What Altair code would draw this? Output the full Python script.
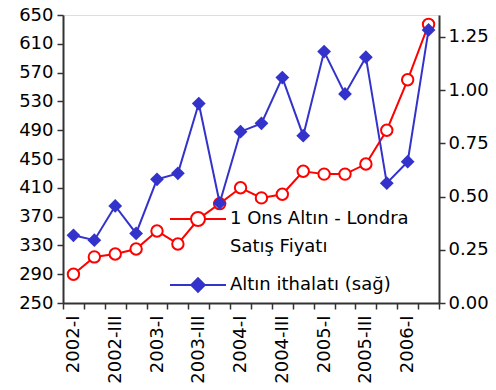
import json
import altair as alt
import pandas as pd

quarters = ["2002-I", "2002-II", "2002-III", "2002-IV",
            "2003-I", "2003-II", "2003-III", "2003-IV",
            "2004-I", "2004-II", "2004-III", "2004-IV",
            "2005-I", "2005-II", "2005-III", "2005-IV",
            "2006-I", "2006-II"]
shown_labels = ["2002-I", "2002-III", "2003-I", "2003-III", "2004-I",
                "2004-III", "2005-I", "2005-III", "2006-I"]
gold_price = [290, 314, 318, 325, 350, 332, 367, 388, 410, 396, 401, 433,
              429, 429, 443, 490, 560, 637]
gold_imports = [0.318, 0.295, 0.456, 0.327, 0.581, 0.609, 0.937, 0.470,
                0.805, 0.844, 1.059, 0.786, 1.181, 0.982, 1.155, 0.563,
                0.664, 1.283]
series_names = ["1 Ons Altın - Londra Satış Fiyatı", "Altın ithalatı (sağ)"]
left_ticks = [250, 290, 330, 370, 410, 450, 490, 530, 570, 610, 650]
right_ticks = [0.0, 0.25, 0.5, 0.75, 1.0, 1.25]

df = pd.DataFrame({"quarter": quarters, "price": gold_price, "imports": gold_imports})

RED = "#ff0000"
BLUE = "#3333cc"
FONT = "DejaVu Sans"
AXC = "#333333"

x_enc = alt.X(
    "quarter:N", sort=quarters, bandPosition=0.5,
    scale=alt.Scale(type="band", paddingInner=0, paddingOuter=0),
    axis=alt.Axis(
        title=None, labelAngle=-90, labelFont=FONT, labelFontSize=18,
        labelColor="#000000", labelOverlap=False, labelPadding=6,
        labelExpr="indexof(" + json.dumps(shown_labels) + ", datum.value) >= 0 ? datum.value : ''",
        tickBand="extent", tickSize=6, tickColor=AXC, tickWidth=1.5,
        domainColor=AXC, domainWidth=2, grid=False,
    ),
)

y_left = alt.Y(
    "price:Q", scale=alt.Scale(domain=[250, 650], nice=False, zero=False),
    axis=alt.Axis(
        orient="left", title=None, values=left_ticks, labelFont=FONT,
        labelFontSize=18, labelColor="#000000", tickSize=6, tickColor=AXC,
        tickWidth=1.5, domainColor=AXC, domainWidth=2, grid=False, labelPadding=4,
    ),
)
y_right = alt.Y(
    "imports:Q", scale=alt.Scale(domain=[0, 1.353], nice=False, zero=False),
    axis=alt.Axis(
        orient="right", title=None, values=right_ticks, format=".2f",
        labelFont=FONT, labelFontSize=18, labelColor="#000000", tickSize=6,
        tickColor=AXC, tickWidth=1.5, domainColor=AXC, domainWidth=2,
        grid=False, labelPadding=3,
    ),
)

base = alt.Chart(df)
price_layer = alt.layer(
    base.mark_line(color=RED, strokeWidth=2).encode(x=x_enc, y=y_left),
    base.mark_point(shape="circle", size=130, filled=False, fill="white",
                    stroke=RED, strokeWidth=2, opacity=1).encode(x=x_enc, y=y_left),
)
import_layer = alt.layer(
    base.mark_line(color=BLUE, strokeWidth=2).encode(x=x_enc, y=y_right),
    base.mark_point(shape="diamond", size=190, filled=True, color=BLUE,
                    opacity=1).encode(x=x_enc, y=y_right),
)

path_red = ("M-1,0H-0.25M0.25,0H1"
            "M-0.25,0A0.25,0.25 0 1,1 0.25,0A0.25,0.25 0 1,1 -0.25,0Z")
path_blue = "M-1,0H1M0,-0.24L0.24,0L0,0.24L-0.24,0Z"

leg = alt.Legend(
    title=None, orient="none", legendX=106, legendY=175, padding=0,
    labelFont=FONT, labelFontSize=18, labelColor="#000000", labelLimit=400,
    labelOffset=3, symbolSize=3136, symbolStrokeWidth=2, rowPadding=-12,
    labelExpr="datum.label == '" + series_names[0] + "' ? ['1 Ons Altın - Londra', 'Satış Fiyatı'] : datum.label",
)
legend_layer = base.transform_filter("false").mark_point(size=3136, opacity=1, strokeWidth=2).encode(
    shape=alt.Shape("series:N", scale=alt.Scale(domain=series_names, range=[path_red, path_blue]), legend=leg),
    stroke=alt.Stroke("series:N", scale=alt.Scale(domain=series_names, range=[RED, BLUE]), legend=leg),
    fill=alt.Fill("series:N", scale=alt.Scale(domain=series_names, range=["#ffffff", BLUE]), legend=leg),
)

chart = alt.layer(price_layer, import_layer, legend_layer).resolve_scale(
    y="independent"
).properties(
    width=376, height=288, autosize="none",
    padding={"left": 63, "top": 15, "right": 57, "bottom": 87},
).configure_view(stroke="#999999", strokeWidth=2).configure(
    background="white", style={"guide-label": {"lineHeight": 28}}
)

chart.save("out.html", embed_options={"renderer": "svg", "actions": False})
